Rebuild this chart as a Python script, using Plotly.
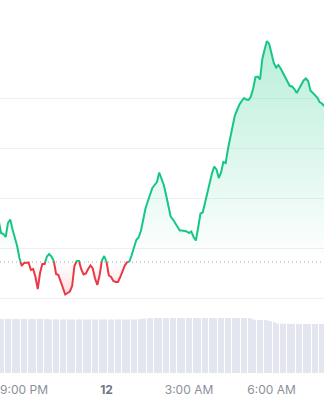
import numpy as np
import pandas as pd
import plotly.graph_objects as go

# ---------------- data ----------------
start_time = "2024-06-11 20:05"
interval = "5min"
open_price = 36.0

price = [
    77, 65, 64, 61, 75, 78.5, 68.5, 60, 52, 40,
    32, 35, 35.5, 35.5, 28, 29, 21, 9, 25, 34,
    34, 41.5, 44, 41.5, 37, 24, 23, 17, 10.5, 3.5,
    5, 6.5, 12, 32, 37, 37, 28.5, 23.5, 24.5, 29,
    32.5, 29.5, 19.5, 13, 23, 37.5, 42, 36.5, 22.5, 21,
    17, 16, 16, 21, 27, 32.5, 35.8, 36.5, 43, 52,
    58, 60.5, 67, 78, 89.5, 96.5, 104, 110, 113, 116,
    125.5, 119, 113, 103, 92.5, 81.5, 78.5, 75, 72, 67.5,
    67.5, 67, 66.5, 65, 66.5, 61, 57.5, 70.5, 84.5, 85.5,
    95, 107.5, 116.5, 124.5, 131.5, 128.5, 120, 125.5, 136, 135,
    149, 161, 173, 182.5, 188, 193.5, 197, 200, 198.5, 198,
    201.5, 209.5, 221, 221.5, 218.5, 239, 248.5, 257, 254, 244,
    235, 230.5, 233, 229.5, 225, 220.5, 216, 212, 211.5, 209,
    205, 209, 213.5, 217.5, 219.5, 217, 207.5, 205, 203.5, 200.5,
    196, 194.5, 192,
]

volume = [
    5.40, 5.41, 5.40, 5.39, 5.40, 5.41, 5.40, 5.40, 5.39, 5.40,
    5.41, 5.40, 5.39, 5.38, 5.39, 5.40, 5.40, 5.41, 5.40, 5.39,
    5.40, 5.40, 5.37, 5.36, 5.36, 5.37, 5.36, 5.35, 5.36, 5.36,
    5.37, 5.36, 5.36, 5.35, 5.36, 5.37, 5.36, 5.36, 5.35, 5.36,
    5.36, 5.37, 5.36, 5.36, 5.35, 5.36, 5.37, 5.36, 5.36, 5.36,
    5.35, 5.36, 5.37, 5.36, 5.36, 5.35, 5.36, 5.36, 5.37, 5.36,
    5.36, 5.38, 5.40, 5.43, 5.46, 5.48, 5.50, 5.50, 5.49, 5.50,
    5.51, 5.50, 5.49, 5.50, 5.50, 5.51, 5.50, 5.49, 5.50, 5.50,
    5.50, 5.51, 5.50, 5.49, 5.50, 5.50, 5.51, 5.50, 5.50, 5.49,
    5.50, 5.50, 5.51, 5.50, 5.50, 5.49, 5.50, 5.51, 5.50, 5.50,
    5.49, 5.50, 5.50, 5.51, 5.50, 5.50, 5.49, 5.50, 5.50, 5.49,
    5.45, 5.38, 5.32, 5.30, 5.30, 5.29, 5.30, 5.28, 5.22, 5.16,
    5.10, 5.00, 4.95, 4.93, 4.92, 4.92, 4.93, 4.92, 4.91, 4.92,
    4.92, 4.91, 4.90, 4.91, 4.90, 4.90, 4.91, 4.90, 4.89, 4.90,
    4.90, 4.89, 4.90,
]

tick_times = ["2024-06-11 21:00", "2024-06-12 00:00", "2024-06-12 03:00", "2024-06-12 06:00"]
tick_labels = ["9:00 PM", "<b><span style='color:#6f7682'>12</span></b>", "3:00 AM", "6:00 AM"]
view_range = ["2024-06-11 20:07:38", "2024-06-12 07:54:33"]
grid_levels = [0, 50, 100, 150, 200]

# ---------------- styles ----------------
GREEN = "#16c784"
RED = "#ea3943"

times = pd.date_range(start_time, periods=len(price), freq=interval)

# insert the points where the line crosses the opening price so colours switch cleanly
t_ns = times.asi8.astype(float)
xs, ys = [], []
for i in range(len(price)):
    if i > 0:
        a, b = price[i - 1], price[i]
        if (a - open_price) * (b - open_price) < 0:
            f = (open_price - a) / (b - a)
            xs.append(t_ns[i - 1] + f * (t_ns[i] - t_ns[i - 1]))
            ys.append(open_price)
    xs.append(t_ns[i])
    ys.append(price[i])
x_aug = pd.to_datetime(np.array(xs).astype("int64"))
ys = np.array(ys, dtype=float)

green_fill = np.maximum(ys, open_price)
red_fill = np.minimum(ys, open_price)
green_line = [y if y >= open_price else None for y in ys]
red_line = [y if y <= open_price else None for y in ys]
base = [open_price] * len(ys)

fig = go.Figure()

fig.add_trace(go.Scatter(x=x_aug, y=base, mode="lines", line=dict(width=0), hoverinfo="skip"))
fig.add_trace(go.Scatter(
    x=x_aug, y=green_fill, mode="lines", line=dict(width=0), fill="tonexty",
    fillgradient=dict(type="vertical", start=open_price, stop=max(price),
                      colorscale=[[0, "rgba(22,199,132,0.0)"], [1, "rgba(22,199,132,0.30)"]]),
    hoverinfo="skip"))
fig.add_trace(go.Scatter(x=x_aug, y=base, mode="lines", line=dict(width=0), hoverinfo="skip"))
fig.add_trace(go.Scatter(
    x=x_aug, y=red_fill, mode="lines", line=dict(width=0), fill="tonexty",
    fillgradient=dict(type="vertical", start=min(price), stop=open_price,
                      colorscale=[[0, "rgba(234,57,67,0.16)"], [1, "rgba(234,57,67,0.0)"]]),
    hoverinfo="skip"))

# dotted opening-price line
fig.add_trace(go.Scatter(x=view_range, y=[open_price, open_price], mode="lines",
                         line=dict(color="#a3a8b0", width=1, dash="1px,3px"), hoverinfo="skip"))

fig.add_trace(go.Scatter(x=x_aug, y=green_line, mode="lines", connectgaps=False,
                         line=dict(color=GREEN, width=2)))
fig.add_trace(go.Scatter(x=x_aug, y=red_line, mode="lines", connectgaps=False,
                         line=dict(color=RED, width=2)))

fig.add_trace(go.Bar(x=times, y=volume, yaxis="y2", marker=dict(color="#e4e6ef", line=dict(width=0))))

fig.update_layout(
    width=324, height=400,
    margin=dict(l=0, r=0, t=0, b=27),
    paper_bgcolor="white", plot_bgcolor="white",
    showlegend=False, bargap=0.55,
    xaxis=dict(type="date", range=view_range, anchor="y2", showgrid=False, zeroline=False,
               tickmode="array", tickvals=tick_times, ticktext=tick_labels,
               ticks="outside", ticklen=6, tickcolor="rgba(0,0,0,0)",
               tickfont=dict(family="Inter", size=12, color="#8a909b"),
               showline=False, fixedrange=True),
    yaxis=dict(domain=[0.1957, 1], range=[-2, 298], tickmode="array", tickvals=grid_levels,
               showticklabels=False, showgrid=True, gridcolor="#eff0f3", gridwidth=1,
               zeroline=False, fixedrange=True),
    yaxis2=dict(domain=[0, 0.1957], range=[0, 7.3], showticklabels=False, showgrid=False,
                zeroline=False, fixedrange=True),
    hovermode=False,
)

fig.write_html("out.html", config={"displayModeBar": False})
